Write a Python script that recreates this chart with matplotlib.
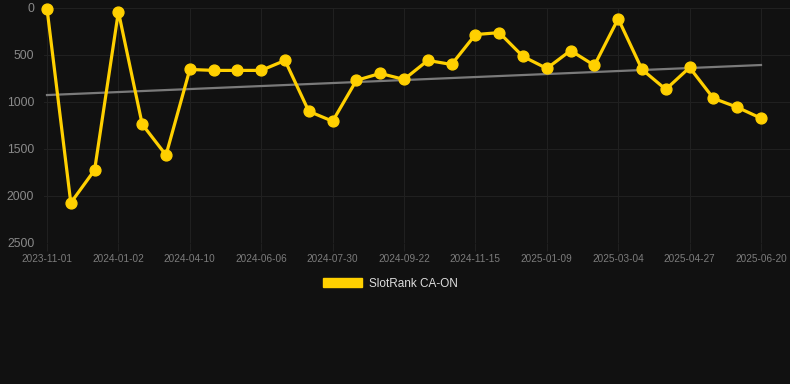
import numpy as np
import matplotlib.pyplot as plt
from matplotlib.patches import Patch

# ранг по датам (ось категорий, подпись у каждой третьей точки)
dates = ["2023-11-01", "", "", "2024-01-02", "", "", "2024-04-10", "", "",
         "2024-06-06", "", "", "2024-07-30", "", "", "2024-09-22", "", "",
         "2024-11-15", "", "", "2025-01-09", "", "", "2025-03-04", "", "",
         "2025-04-27", "", "", "2025-06-20"]
rank = [10, 2076, 1727, 42, 1240, 1568, 657, 667, 667, 667, 561, 1102, 1208,
        773, 699, 763, 561, 604, 286, 265, 519, 646, 456, 614, 117, 657, 869,
        636, 964, 1059, 1176]
y_ticks = [0, 500, 1000, 1500, 2000, 2500]
series_name = "SlotRank CA-ON"

bg = "#111111"
grid_c = "#202020"
gold = "#FFD000"

plt.rcParams["font.family"] = ["Liberation Sans", "DejaVu Sans"]

x = np.arange(len(rank))
k, b = np.polyfit(x, rank, 1)
trend = k * x + b

fig = plt.figure(figsize=(7.9, 3.84), dpi=100, facecolor=bg)
ax = fig.add_axes([44 / 790, 1 - 242.7 / 384, 1 - 44 / 790, (242.7 - 7.7) / 384])
ax.set_facecolor(bg)

ax.plot([x[0], x[-1]], [trend[0], trend[-1]], color="#7a7a7a", lw=1.6, zorder=2)
ax.plot(x, rank, color=gold, lw=2.3, marker="o", markersize=7.8,
        clip_on=False, zorder=3)

ax.set_xlim(-3 / 23.8, 30 + 29 / 23.8)
ax.set_ylim(2500, 0)
ax.set_yticks(y_ticks)
ax.set_yticklabels([str(v) for v in y_ticks], fontsize=8.7, color="#8a8a8a")

tick_pos = [i for i, d in enumerate(dates) if d]
ax.set_xticks(tick_pos)
ax.set_xticklabels([dates[i] for i in tick_pos], fontsize=7.2, color="#7c7c7c")

ax.grid(True, color=grid_c, lw=0.8)
ax.tick_params(axis="x", length=6, color=grid_c, pad=2)
ax.tick_params(axis="y", length=0, pad=7)
for s in ax.spines.values():
    s.set_visible(False)

fig.legend(handles=[Patch(facecolor=gold, edgecolor=gold, label=series_name)],
           loc="center", bbox_to_anchor=(390 / 790, 1 - 284 / 384),
           frameon=False, fontsize=8.5, labelcolor="#dddddd",
           handlelength=3.3, handleheight=0.8, handletextpad=0.6)

fig.savefig("out.png", dpi=100, facecolor=bg)
